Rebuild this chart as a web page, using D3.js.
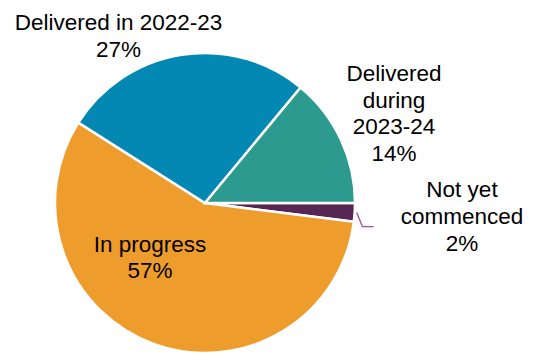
<!DOCTYPE html>
<meta charset="utf-8">
<style>
body { margin: 0; background: #fff; }
svg { display: block; }
.lbl { font-family: "Liberation Sans", Arial, sans-serif; font-size: 22.5px; fill: #000; }
</style>
<body>
<script src="https://d3js.org/d3.v7.min.js"></script>
<script>
// data, clockwise from the 3 o'clock "In progress" boundary round to the teal slice
const categories = ["Not yet commenced", "In progress", "Delivered in 2022-23", "Delivered during 2023-24"];
const shares = [2, 57, 27, 14];
const labelLines = [
  ["Not yet", "commenced", "2%"],
  ["In progress", "57%"],
  ["Delivered in 2022-23", "27%"],
  ["Delivered", "during", "2023-24", "14%"]
];
const colours = ["#582655", "#EE9D2D", "#0388B4", "#2C9A8E"];

const W = 538, H = 354;
const cx = 205, cy = 203, r = 150;
const lineH = 26.6;
// label anchors (centre x, first baseline), relative to pie centre
const labelPos = [[257, -5.7], [-55, 48.7], [-86.5, -173], [189, -122]];

const svg = d3.select("body").append("svg")
  .attr("width", W)
  .attr("height", H);

const g = svg.append("g").attr("transform", `translate(${cx},${cy})`);

const pie = d3.pie()
  .sort(null)
  .startAngle(Math.PI / 2)
  .endAngle(Math.PI / 2 + 2 * Math.PI)
  .value(d => d);

const arcs = pie(shares);
const arc = d3.arc().innerRadius(0).outerRadius(r);

g.selectAll("path.slice")
  .data(arcs)
  .join("path")
  .attr("class", "slice")
  .attr("d", arc)
  .attr("fill", (d, i) => colours[i])
  .attr("stroke", "#fff")
  .attr("stroke-width", 2.5)
  .attr("stroke-linejoin", "miter");

// leader line for the small slice
const small = arcs[0];
const mid = (small.startAngle + small.endAngle) / 2;
const p0 = [Math.sin(mid) * (r + 2), -Math.cos(mid) * (r + 2)];
g.append("path")
  .attr("d", d3.line()([p0, [p0[0] + 5.7, p0[1] + 14], [p0[0] + 17, p0[1] + 14]]))
  .attr("fill", "none")
  .attr("stroke", "#A64CA6")
  .attr("stroke-width", 1.3);

// labels
labelLines.forEach((lines, i) => {
  const t = g.append("text")
    .attr("class", "lbl")
    .attr("text-anchor", "middle")
    .attr("x", labelPos[i][0])
    .attr("y", labelPos[i][1]);
  lines.forEach((s, k) => {
    t.append("tspan")
      .attr("x", labelPos[i][0])
      .attr("dy", k === 0 ? 0 : lineH)
      .text(s);
  });
});
</script>
</body>
</html>
